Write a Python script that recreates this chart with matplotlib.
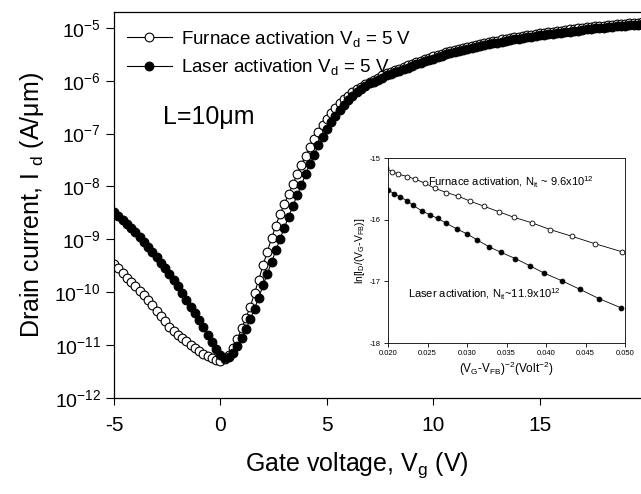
import matplotlib.pyplot as plt
import numpy as np

plt.rcParams['font.family'] = 'Liberation Sans'
plt.rcParams['mathtext.fontset'] = 'custom'
plt.rcParams['mathtext.rm'] = 'Liberation Sans'
plt.rcParams['mathtext.it'] = 'Liberation Sans:italic'
plt.rcParams['axes.unicode_minus'] = False

# gate voltage sweep, 0.2 V steps
vg = np.round(np.arange(-5.0, 19.81, 0.2), 1)

# log10 of drain current (A/um)
furnace_log = [
    -9.47, -9.55, -9.64, -9.73, -9.81, -9.89, -9.97, -10.06, -10.15, -10.25,
    -10.35, -10.45, -10.55, -10.66, -10.73, -10.80, -10.87, -10.93, -10.99, -11.05,
    -11.11, -11.16, -11.21, -11.25, -11.29, -11.30,
    -11.27, -11.19, -11.06, -10.88, -10.68, -10.48, -10.27, -10.02, -9.76, -9.49,
    -9.23, -8.98, -8.74, -8.52, -8.33, -8.15, -7.96, -7.77, -7.59, -7.42,
    -7.26, -7.11, -6.97, -6.84, -6.72, -6.61, -6.51, -6.43, -6.35, -6.28,
    -6.22, -6.16, -6.11, -6.06, -6.02, -5.98,
    -5.94, -5.90, -5.86, -5.83, -5.80, -5.77, -5.74, -5.71, -5.68, -5.65,
    -5.62, -5.59, -5.57, -5.54, -5.51, -5.49, -5.46, -5.44, -5.42, -5.40,
    -5.38, -5.36, -5.34, -5.32, -5.31, -5.29, -5.27, -5.25, -5.24, -5.22,
    -5.21, -5.19, -5.18, -5.17, -5.15, -5.14, -5.13, -5.11, -5.10, -5.09,
    -5.08, -5.07, -5.06, -5.05, -5.04, -5.03, -5.02, -5.01, -5.00, -4.99,
    -4.98, -4.97, -4.96, -4.96, -4.95, -4.94, -4.93, -4.93, -4.92, -4.91,
    -4.91, -4.90, -4.89,
]
laser_log = [
    -8.49, -8.56, -8.63, -8.71, -8.79, -8.87, -8.96, -9.05, -9.14, -9.24,
    -9.34, -9.44, -9.54, -9.65, -9.77, -9.89, -10.01, -10.14, -10.27, -10.40,
    -10.53, -10.66, -10.80, -10.94, -11.08, -11.19, -11.24,
    -11.22, -11.14, -11.02, -10.87, -10.70, -10.51, -10.31, -10.10, -9.87, -9.65,
    -9.43, -9.21, -8.99, -8.78, -8.57, -8.37, -8.17, -7.98, -7.76, -7.58,
    -7.40, -7.22, -7.06, -6.91, -6.78, -6.66, -6.55, -6.45, -6.36, -6.28,
    -6.21, -6.15, -6.10, -6.05, -6.02,
    -5.98, -5.94, -5.90, -5.87, -5.84, -5.81, -5.78, -5.75, -5.72, -5.69,
    -5.66, -5.63, -5.61, -5.58, -5.55, -5.53, -5.50, -5.48, -5.46, -5.44,
    -5.42, -5.40, -5.38, -5.36, -5.35, -5.33, -5.31, -5.29, -5.28, -5.26,
    -5.25, -5.23, -5.22, -5.21, -5.19, -5.18, -5.17, -5.15, -5.14, -5.13,
    -5.12, -5.11, -5.10, -5.09, -5.08, -5.07, -5.06, -5.05, -5.04, -5.03,
    -5.02, -5.01, -5.00, -5.00, -4.99, -4.98, -4.97, -4.97, -4.96, -4.95,
    -4.95, -4.94, -4.93,
]

y_ticks = [1e-12, 1e-11, 1e-10, 1e-9, 1e-8, 1e-7, 1e-6, 1e-5]
y_labels = [r'$\mathregular{10^{-%d}}$' % n for n in [12, 11, 10, 9, 8, 7, 6, 5]]
x_ticks = [-5, 0, 5, 10, 15]

# inset: ln[ID/(VG-VFB)] vs (VG-VFB)^-2
inset_furnace_x = [0.0198, 0.0205, 0.0213, 0.0224, 0.0234, 0.0247, 0.0259, 0.0274, 0.0289,
                   0.0304, 0.0321, 0.0340, 0.0359, 0.0382, 0.0405, 0.0433, 0.0462, 0.0496]
inset_furnace_y = [-15.17, -15.22, -15.26, -15.30, -15.34, -15.41, -15.49, -15.56, -15.62,
                   -15.70, -15.78, -15.87, -15.96, -16.05, -16.16, -16.27, -16.39, -16.52]
inset_laser_x = [0.0200, 0.0208, 0.0215, 0.0224, 0.0232, 0.0243, 0.0253, 0.0263, 0.0274,
                 0.0287, 0.0300, 0.0313, 0.0328, 0.0343, 0.0361, 0.0380, 0.0398, 0.0420,
                 0.0443, 0.0467, 0.0495]
inset_laser_y = [-15.52, -15.58, -15.63, -15.69, -15.77, -15.86, -15.92, -15.98, -16.06,
                 -16.15, -16.23, -16.33, -16.44, -16.53, -16.63, -16.75, -16.87, -16.99,
                 -17.13, -17.28, -17.43]

fig = plt.figure(figsize=(6.41, 4.94), dpi=100)
ax = fig.add_axes([114/641, 1 - 398/494, 1 - 114/641, (398 - 12)/494])

ax.plot(vg, 10**np.array(furnace_log), '-o', color='black', mfc='white', mec='black',
        ms=6.3, mew=0.8, lw=0.8, label=r'Furnace activation V$_\mathregular{d}$ = 5 V')
ax.plot(vg, 10**np.array(laser_log), '-o', color='black', mfc='black', mec='black',
        ms=6.3, mew=0.8, lw=0.8, label=r'Laser activation V$_\mathregular{d}$ = 5 V')

ax.set_yscale('log')
ax.set_xlim(-5, 19.75)
ax.set_ylim(1e-12, 10**-4.7)
ax.set_yticks(y_ticks)
ax.set_yticklabels(y_labels)
ax.yaxis.set_minor_locator(plt.NullLocator())
ax.set_xticks(x_ticks)
ax.tick_params(axis='both', direction='out', width=0.8)
ax.tick_params(axis='y', length=6, labelsize=14)
ax.tick_params(axis='x', length=5, labelsize=15, pad=8)
ax.spines['right'].set_visible(False)
for s in ['left', 'bottom', 'top']:
    ax.spines[s].set_linewidth(0.9)

ax.set_xlabel(r'Gate voltage, V$_\mathregular{g}$ (V)', fontsize=18)
ax.xaxis.set_label_coords(0.461, -0.135)
ax.set_ylabel(r'Drain current, I $_\mathregular{d}$ (A/μm)', fontsize=18, labelpad=6)

ax.legend(loc='upper left', bbox_to_anchor=(-0.008, 1.0), frameon=False, fontsize=13.5,
          handlelength=2.4, handletextpad=0.5, labelspacing=0.45)
ax.text(-2.7, 10**-6.69, 'L=10μm', fontsize=18, ha='left', va='center')

# inset
ins = fig.add_axes([388/641, 1 - 343/494, 237/641, 185/494])
ins.plot(inset_furnace_x, inset_furnace_y, '-o', color='black', mfc='white', mec='black',
         ms=3.5, mew=0.6, lw=0.6)
ins.plot(inset_laser_x, inset_laser_y, '-o', color='black', mfc='black', mec='black',
         ms=3.5, mew=0.6, lw=0.6)
ins.set_xlim(0.02, 0.05)
ins.set_ylim(-18, -15)
ins.set_xticks([0.020, 0.025, 0.030, 0.035, 0.040, 0.045, 0.050])
ins.set_xticklabels(['0.020', '0.025', '0.030', '0.035', '0.040', '0.045', '0.050'])
ins.set_yticks([-18, -17, -16, -15])
ins.tick_params(direction='out', length=3, width=0.6, labelsize=5.5, pad=2)
for s in ins.spines.values():
    s.set_linewidth(0.6)
ins.set_ylabel(r'ln[I$_\mathregular{D}$/(V$_\mathregular{G}$-V$_\mathregular{FB}$)]', fontsize=7.5, labelpad=2)
ins.set_xlabel(r'(V$_\mathregular{G}$-V$_\mathregular{FB}$)$^\mathregular{-2}$(Volt$^\mathregular{-2}$)',
               fontsize=8.5, labelpad=2)
ins.text(0.02506, -15.39, r'Furnace activation, N$_\mathregular{it}$ ~ 9.6x10$^\mathregular{12}$',
         fontsize=8, ha='left', va='center')
ins.text(0.02253, -17.21, r'Laser activation, N$_\mathregular{it}$~11.9x10$^\mathregular{12}$',
         fontsize=8, ha='left', va='center')

fig.savefig('out.png', dpi=100)
